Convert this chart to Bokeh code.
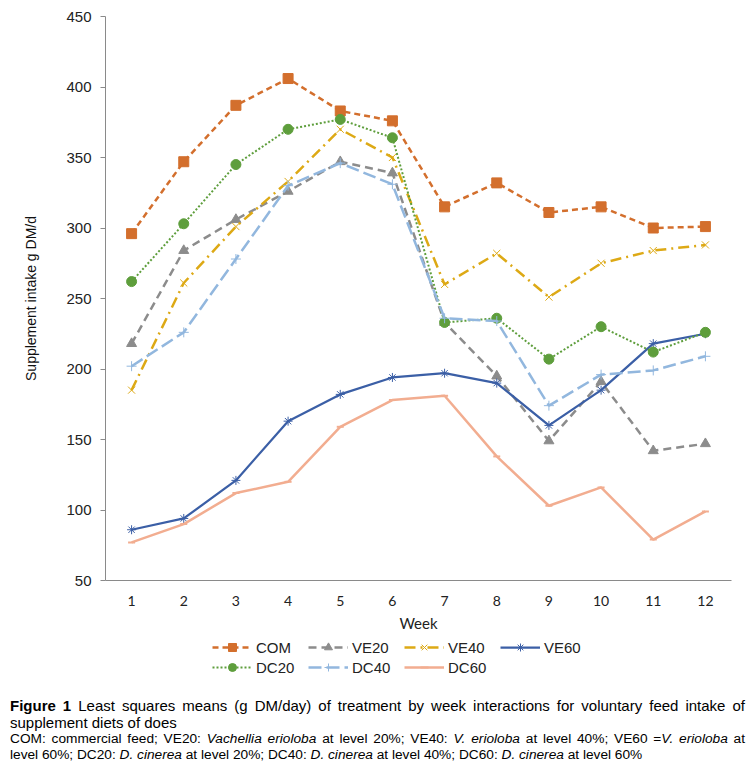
from bokeh.plotting import figure
from bokeh.models import Legend, LegendItem, FixedTicker, Range1d, Div
from bokeh.layouts import column
from bokeh.embed import file_html
from bokeh.resources import INLINE

weeks = [1, 2, 3, 4, 5, 6, 7, 8, 9, 10, 11, 12]
week_labels = [str(w) for w in weeks]
com = [296, 347, 387, 406, 383, 376, 315, 332, 311, 315, 300, 301]
ve20 = [218, 284, 306, 326, 347, 339, 233, 195, 149, 191, 142, 147]
ve40 = [185, 261, 301, 333, 370, 350, 260, 282, 251, 275, 284, 288]
ve60 = [86, 94, 121, 163, 182, 194, 197, 190, 160, 185, 218, 225]
dc20 = [262, 303, 345, 370, 377, 364, 233, 236, 207, 230, 212, 226]
dc40 = [202, 226, 278, 330, 346, 331, 236, 234, 174, 196, 199, 209]
dc60 = [77, 90, 112, 120, 159, 178, 181, 138, 103, 116, 79, 99]
y_ticks = [50, 100, 150, 200, 250, 300, 350, 400, 450]

series = [
    ("COM", com, dict(color="#D36F2D", line_dash="6 4", width=2.5), ("square", 10, 1)),
    ("VE20", ve20, dict(color="#8C8C8C", line_dash="8 5", width=2.5), ("triangle", 10, 1)),
    ("VE40", ve40, dict(color="#DDA915", line_dash="11 5 2 5", width=2.5), ("x", 10, 1)),
    ("VE60", ve60, dict(color="#3B5FA6", line_dash="solid", width=2.25), ("asterisk", 9, 1)),
    ("DC20", dc20, dict(color="#5E9E3C", line_dash="2 2", width=2), ("circle", 10, 1)),
    ("DC40", dc40, dict(color="#92B7DE", line_dash="13 5", width=2.5), ("cross", 10, 1)),
    ("DC60", dc60, dict(color="#F2AD90", line_dash="solid", width=2.5), ("dash", 7, 2)),
]


def add_series(fig):
    its = []
    for name, vals, st, mk in series:
        r1 = fig.line(weeks, vals, line_color=st["color"], line_width=st["width"],
                      line_dash=st["line_dash"])
        marker, size, lw = mk
        r2 = fig.scatter(weeks, vals, marker=marker, size=size, line_color=st["color"],
                         fill_color=st["color"], line_width=lw)
        its.append(LegendItem(label=name, renderers=[r1, r2]))
    return its


# main chart
p = figure(width=745, height=636, output_backend="svg", toolbar_location=None,
           x_range=Range1d(0.5, 12.5), y_range=Range1d(50, 450),
           min_border_left=105, min_border_right=14, min_border_top=16,
           min_border_bottom=56)
p.outline_line_color = None
p.grid.visible = False
add_series(p)

p.xaxis.ticker = FixedTicker(ticks=weeks)
p.xaxis.major_label_overrides = {w: l for w, l in zip(weeks, week_labels)}
p.xaxis.major_tick_out = 0
p.xaxis.major_tick_in = 0
p.xaxis.minor_tick_line_color = None
p.xaxis.axis_line_color = "#8A8A8A"
p.xaxis.major_label_text_font = "Lato"
p.xaxis.major_label_text_font_size = "14px"
p.xaxis.major_label_text_color = "#222222"
p.xaxis.major_label_standoff = 15
p.xaxis.axis_label = "Week"
p.xaxis.axis_label_text_font = "Lato"
p.xaxis.axis_label_text_font_size = "15px"
p.xaxis.axis_label_text_font_style = "normal"
p.xaxis.axis_label_text_color = "#222222"
p.xaxis.axis_label_standoff = 5

p.yaxis.ticker = FixedTicker(ticks=y_ticks)
p.yaxis.major_tick_out = 5
p.yaxis.major_tick_in = 0
p.yaxis.major_tick_line_color = "#8A8A8A"
p.yaxis.minor_tick_line_color = None
p.yaxis.axis_line_color = "#8A8A8A"
p.yaxis.major_label_text_font = "Liberation Sans"
p.yaxis.major_label_text_font_size = "15px"
p.yaxis.major_label_text_color = "#222222"
p.yaxis.major_label_standoff = 9
p.yaxis.axis_label = "Supplement intake g DM/d"
p.yaxis.axis_label_text_font = "Liberation Sans"
p.yaxis.axis_label_text_font_size = "14px"
p.yaxis.axis_label_text_font_style = "normal"
p.yaxis.axis_label_text_color = "#111111"
p.yaxis.axis_label_standoff = 24

# legend strip (series drawn off-range, only their legend glyphs show)
lg = figure(width=745, height=49, output_backend="svg", toolbar_location=None,
            x_range=Range1d(-20, -19), y_range=Range1d(-20, -19),
            min_border_left=0, min_border_right=0, min_border_top=0,
            min_border_bottom=0)
lg.outline_line_color = None
lg.axis.visible = False
lg.grid.visible = False
leg_items = add_series(lg)


def make_legend(its, vy):
    return Legend(items=its, orientation="horizontal",
                  location=(107, vy), glyph_width=40, glyph_height=20,
                  label_height=20, label_width=40, label_standoff=4,
                  spacing=12, padding=0, margin=0, border_line_color=None,
                  background_fill_alpha=0,
                  label_text_font="Liberation Sans", label_text_font_size="15px",
                  label_text_color="#222222")


lg.add_layout(make_legend(leg_items[:4], 28), "center")
lg.add_layout(make_legend(leg_items[4:], 8), "center")

caption = Div(width=745, height=80, margin=0, text="""
<div style="font-family:'Liberation Sans',Arial,sans-serif;color:#000;box-sizing:border-box;padding:12px 0 0 10px;width:745px;">
<div style="font-size:15px;line-height:17px;text-align:justify;text-align-last:justify;"><b>Figure 1</b> Least squares means (g DM/day) of treatment by week interactions for voluntary feed intake of</div>
<div style="font-size:15px;line-height:17px;">supplement diets of does</div>
<div style="font-size:13.7px;line-height:16px;text-align:justify;text-align-last:justify;">COM: commercial feed; VE20: <i>Vachellia erioloba</i> at level 20%; VE40: <i>V. erioloba</i> at level 40%; VE60 =<i>V. erioloba</i> at</div>
<div style="font-size:13.7px;line-height:16px;">level 60%; DC20: <i>D. cinerea</i> at level 20%; DC40: <i>D. cinerea</i> at level 40%; DC60: <i>D. cinerea</i> at level 60%</div>
</div>
""")

layout = column(p, lg, caption)
open("out.html", "w").write(file_html(layout, INLINE))
